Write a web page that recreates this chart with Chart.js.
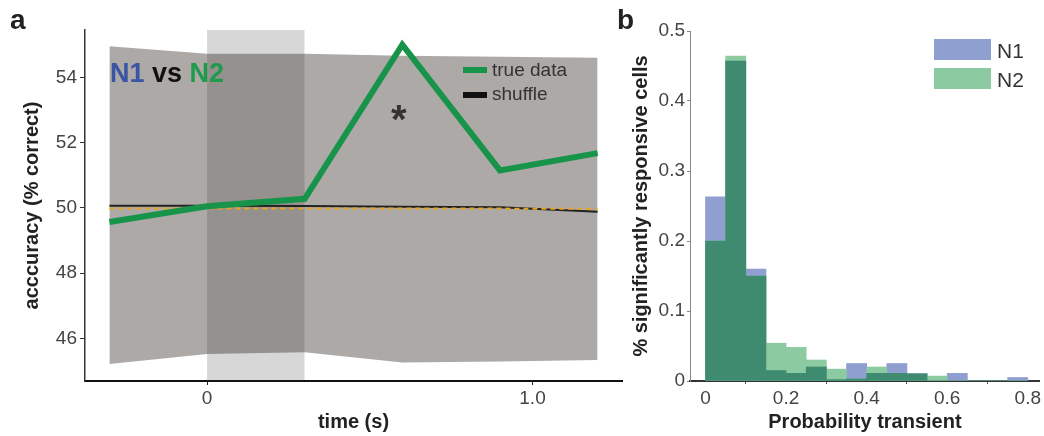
<!DOCTYPE html>
<html>
<head>
<meta charset="utf-8">
<script src="https://cdn.jsdelivr.net/npm/chart.js@4"></script>
<style>
  body { margin: 0; background: #fff; width: 1044px; height: 436px; overflow: hidden; position: relative;
         font-family: "Liberation Sans", Arial, sans-serif; color: #222; }
  #boxA { position: absolute; left: 0; top: 0; width: 640px; height: 436px; }
  #boxB { position: absolute; left: 620px; top: 0; width: 424px; height: 436px; }
  .txt { position: absolute; white-space: nowrap; line-height: 1; }
  .sw { position: absolute; }
</style>
</head>
<body>
<div id="boxA"><canvas id="accChart" width="640" height="436"></canvas></div>
<div id="boxB"><canvas id="histChart" width="424" height="436"></canvas></div>

<div class="txt" style="left:10px;top:6px;font-size:28px;font-weight:bold;">a</div>
<div class="txt" style="left:617px;top:6px;font-size:28px;font-weight:bold;">b</div>

<div class="txt" style="left:110px;top:60px;font-size:27px;font-weight:bold;">
  <span style="color:#3b55a5">N1</span> <span style="color:#111">vs</span> <span style="color:#1f9a4c">N2</span>
</div>
<div class="txt" style="left:391px;top:99px;font-size:40px;font-weight:bold;color:#333;">*</div>

<div class="sw" style="left:463px;top:67px;width:24px;height:6px;background:#17944a;"></div>
<div class="txt" style="left:492px;top:60px;font-size:19px;color:#333;">true data</div>
<div class="sw" style="left:463px;top:92px;width:24px;height:6px;background:#111;"></div>
<div class="txt" style="left:492px;top:84px;font-size:19px;color:#333;">shuffle</div>

<div class="sw" style="left:934px;top:39px;width:57px;height:21px;background:#8e9fd0;"></div>
<div class="txt" style="left:997px;top:40px;font-size:21px;color:#333;">N1</div>
<div class="sw" style="left:934px;top:68px;width:57px;height:21px;background:#8ccaa1;"></div>
<div class="txt" style="left:997px;top:69px;font-size:21px;color:#333;">N2</div>

<script>
(function () {

  // panel a: decoding accuracy over time
  var timePoints = [-0.3, 0, 0.3, 0.6, 0.9, 1.2];
  var trueData = [49.57, 50.05, 50.28, 55.0, 51.15, 51.68];
  var shuffleData = [50.07, 50.07, 50.06, 50.04, 50.02, 49.88];
  var chanceData = [49.98, 49.98, 49.98, 49.98, 49.98, 49.97];
  var bandUpper = [54.95, 54.72, 54.72, 54.66, 54.63, 54.6];
  var bandLower = [45.22, 45.53, 45.58, 45.27, 45.3, 45.34];
  var stimWindow = [0, 0.3];
  var accRange = [44.7, 55.45];
  var timeRange = [-0.375, 1.275];
  var accTicks = [46, 48, 50, 52, 54];
  var timeTicks = [0, 1.0];

  // panel b: histogram of transient probability
  var binCenters = [0.025, 0.075, 0.125, 0.175, 0.225, 0.275, 0.325, 0.375,
                    0.425, 0.475, 0.525, 0.575, 0.625, 0.675, 0.725, 0.775];
  var n1Frac = [0.263, 0.457, 0.160, 0.015, 0.011, 0.020, 0.002, 0.025,
                0.011, 0.025, 0.011, 0.000, 0.011, 0.000, 0.000, 0.005];
  var n2Frac = [0.200, 0.464, 0.150, 0.054, 0.048, 0.030, 0.017, 0.003,
                0.020, 0.011, 0.010, 0.007, 0.000, 0.000, 0.000, 0.000];
  var histYTicks = [0, 0.1, 0.2, 0.3, 0.4, 0.5];
  var histXTicks = [0, 0.2, 0.4, 0.6, 0.8];
  var histXRange = [-0.0385, 0.83];

  function pts(ys) {
    return timePoints.map(function (t, i) { return {x: t, y: ys[i]}; });
  }

  var tickFont = {family: '"Liberation Sans", Arial, sans-serif', size: 19};
  var titleFont = {family: '"Liberation Sans", Arial, sans-serif', size: 20, weight: 'bold'};

  var ctx = document.getElementById("accChart").getContext("2d");
  new Chart(ctx, {
    type: 'line',
    data: {
      datasets: [
        {label: 'true data', data: pts(trueData), borderColor: '#17944a', borderWidth: 6,
         pointRadius: 0, tension: 0, fill: false, borderJoinStyle: 'miter'},
        {label: 'chance', data: pts(chanceData), borderColor: '#e8a424', borderWidth: 2,
         borderDash: [5, 4], pointRadius: 0, fill: false},
        {label: 'shuffle', data: pts(shuffleData), borderColor: '#222', borderWidth: 2,
         pointRadius: 0, fill: false},
        {label: 'window', data: [{x: stimWindow[0], y: accRange[1]}, {x: stimWindow[1], y: accRange[1]}],
         borderWidth: 0, pointRadius: 0, fill: 'start', backgroundColor: 'rgba(42,42,42,0.19)'},
        {label: 'upper', data: pts(bandUpper), borderWidth: 0, pointRadius: 0,
         fill: '+1', backgroundColor: 'rgb(173,169,167)'},
        {label: 'lower', data: pts(bandLower), borderWidth: 0, pointRadius: 0, fill: false}
      ]
    },
    options: {
      responsive: false,
      animation: false,
      layout: {padding: {top: 30, right: 18, left: 0, bottom: 0}},
      plugins: {legend: {display: false}, tooltip: {enabled: false}},
      scales: {
        x: {
          type: 'linear', min: timeRange[0], max: timeRange[1],
          afterFit: function (s) { s.height = 55; },
          afterBuildTicks: function (s) { s.ticks = timeTicks.map(function (v) { return {value: v}; }); },
          ticks: {font: tickFont, color: '#444', padding: 2, maxRotation: 0,
                  callback: function (v) { return v === 0 ? '0' : v.toFixed(1); }},
          grid: {display: true, drawOnChartArea: false, drawTicks: true, tickLength: 4, color: '#222'},
          border: {display: true, color: '#111', width: 2},
          title: {display: true, text: 'time (s)', font: titleFont, color: '#222', padding: {top: 0, bottom: 2}}
        },
        y: {
          min: accRange[0], max: accRange[1],
          afterFit: function (s) { s.width = 85; },
          afterBuildTicks: function (s) { s.ticks = accTicks.map(function (v) { return {value: v}; }); },
          ticks: {font: tickFont, color: '#444', padding: 3},
          grid: {display: true, drawOnChartArea: false, drawTicks: true, tickLength: 5, color: '#333'},
          border: {display: true, color: '#333', width: 1.5},
          title: {display: true, text: 'acccuracy (% correct)', font: titleFont, color: '#222', padding: {top: 20, bottom: 0}}
        }
      }
    }
  });

  function bars(ys) {
    return binCenters.map(function (c, i) { return {x: c, y: ys[i]}; });
  }
  var bothFrac = n1Frac.map(function (v, i) { return Math.min(v, n2Frac[i]); });

  var ctx2 = document.getElementById("histChart").getContext("2d");
  new Chart(ctx2, {
    type: 'bar',
    data: {
      datasets: [
        {label: 'overlap', data: bars(bothFrac), backgroundColor: '#3e8b70', grouped: false,
         barPercentage: 1, categoryPercentage: 1, borderWidth: 0},
        {label: 'N2', data: bars(n2Frac), backgroundColor: '#8ccaa1', grouped: false,
         barPercentage: 1, categoryPercentage: 1, borderWidth: 0},
        {label: 'N1', data: bars(n1Frac), backgroundColor: '#8e9fd0', grouped: false,
         barPercentage: 1, categoryPercentage: 1, borderWidth: 0}
      ]
    },
    options: {
      responsive: false,
      animation: false,
      layout: {padding: {top: 31, right: 0, left: 0, bottom: 0}},
      plugins: {legend: {display: false}, tooltip: {enabled: false}},
      scales: {
        x: {
          type: 'linear', min: histXRange[0], max: histXRange[1], offset: false,
          afterFit: function (s) { s.height = 55; },
          afterBuildTicks: function (s) { s.ticks = histXTicks.map(function (v) { return {value: v}; }); },
          ticks: {font: tickFont, color: '#444', padding: 3, maxRotation: 0,
                  callback: function (v) { return v === 0 ? '0' : v.toFixed(1); }},
          grid: {display: true, drawOnChartArea: false, drawTicks: true, tickLength: 3, color: '#555'},
          border: {display: true, color: '#333', width: 2},
          title: {display: true, text: 'Probability transient', font: titleFont, color: '#222', padding: {top: 0, bottom: 2}}
        },
        y: {
          min: 0, max: 0.5,
          afterFit: function (s) { s.width = 70; },
          afterBuildTicks: function (s) { s.ticks = histYTicks.map(function (v) { return {value: v}; }); },
          ticks: {font: tickFont, color: '#444', padding: 2,
                  callback: function (v) { return v === 0 ? '0' : v.toFixed(1); }},
          grid: {display: true, drawOnChartArea: false, drawTicks: true, tickLength: 3, color: '#888'},
          border: {display: true, color: '#888', width: 1},
          title: {display: true, text: '% significantly responsive cells', font: titleFont, color: '#222', padding: {top: 9, bottom: 0}}
        }
      }
    }
  });

})();
</script>
</body>
</html>
